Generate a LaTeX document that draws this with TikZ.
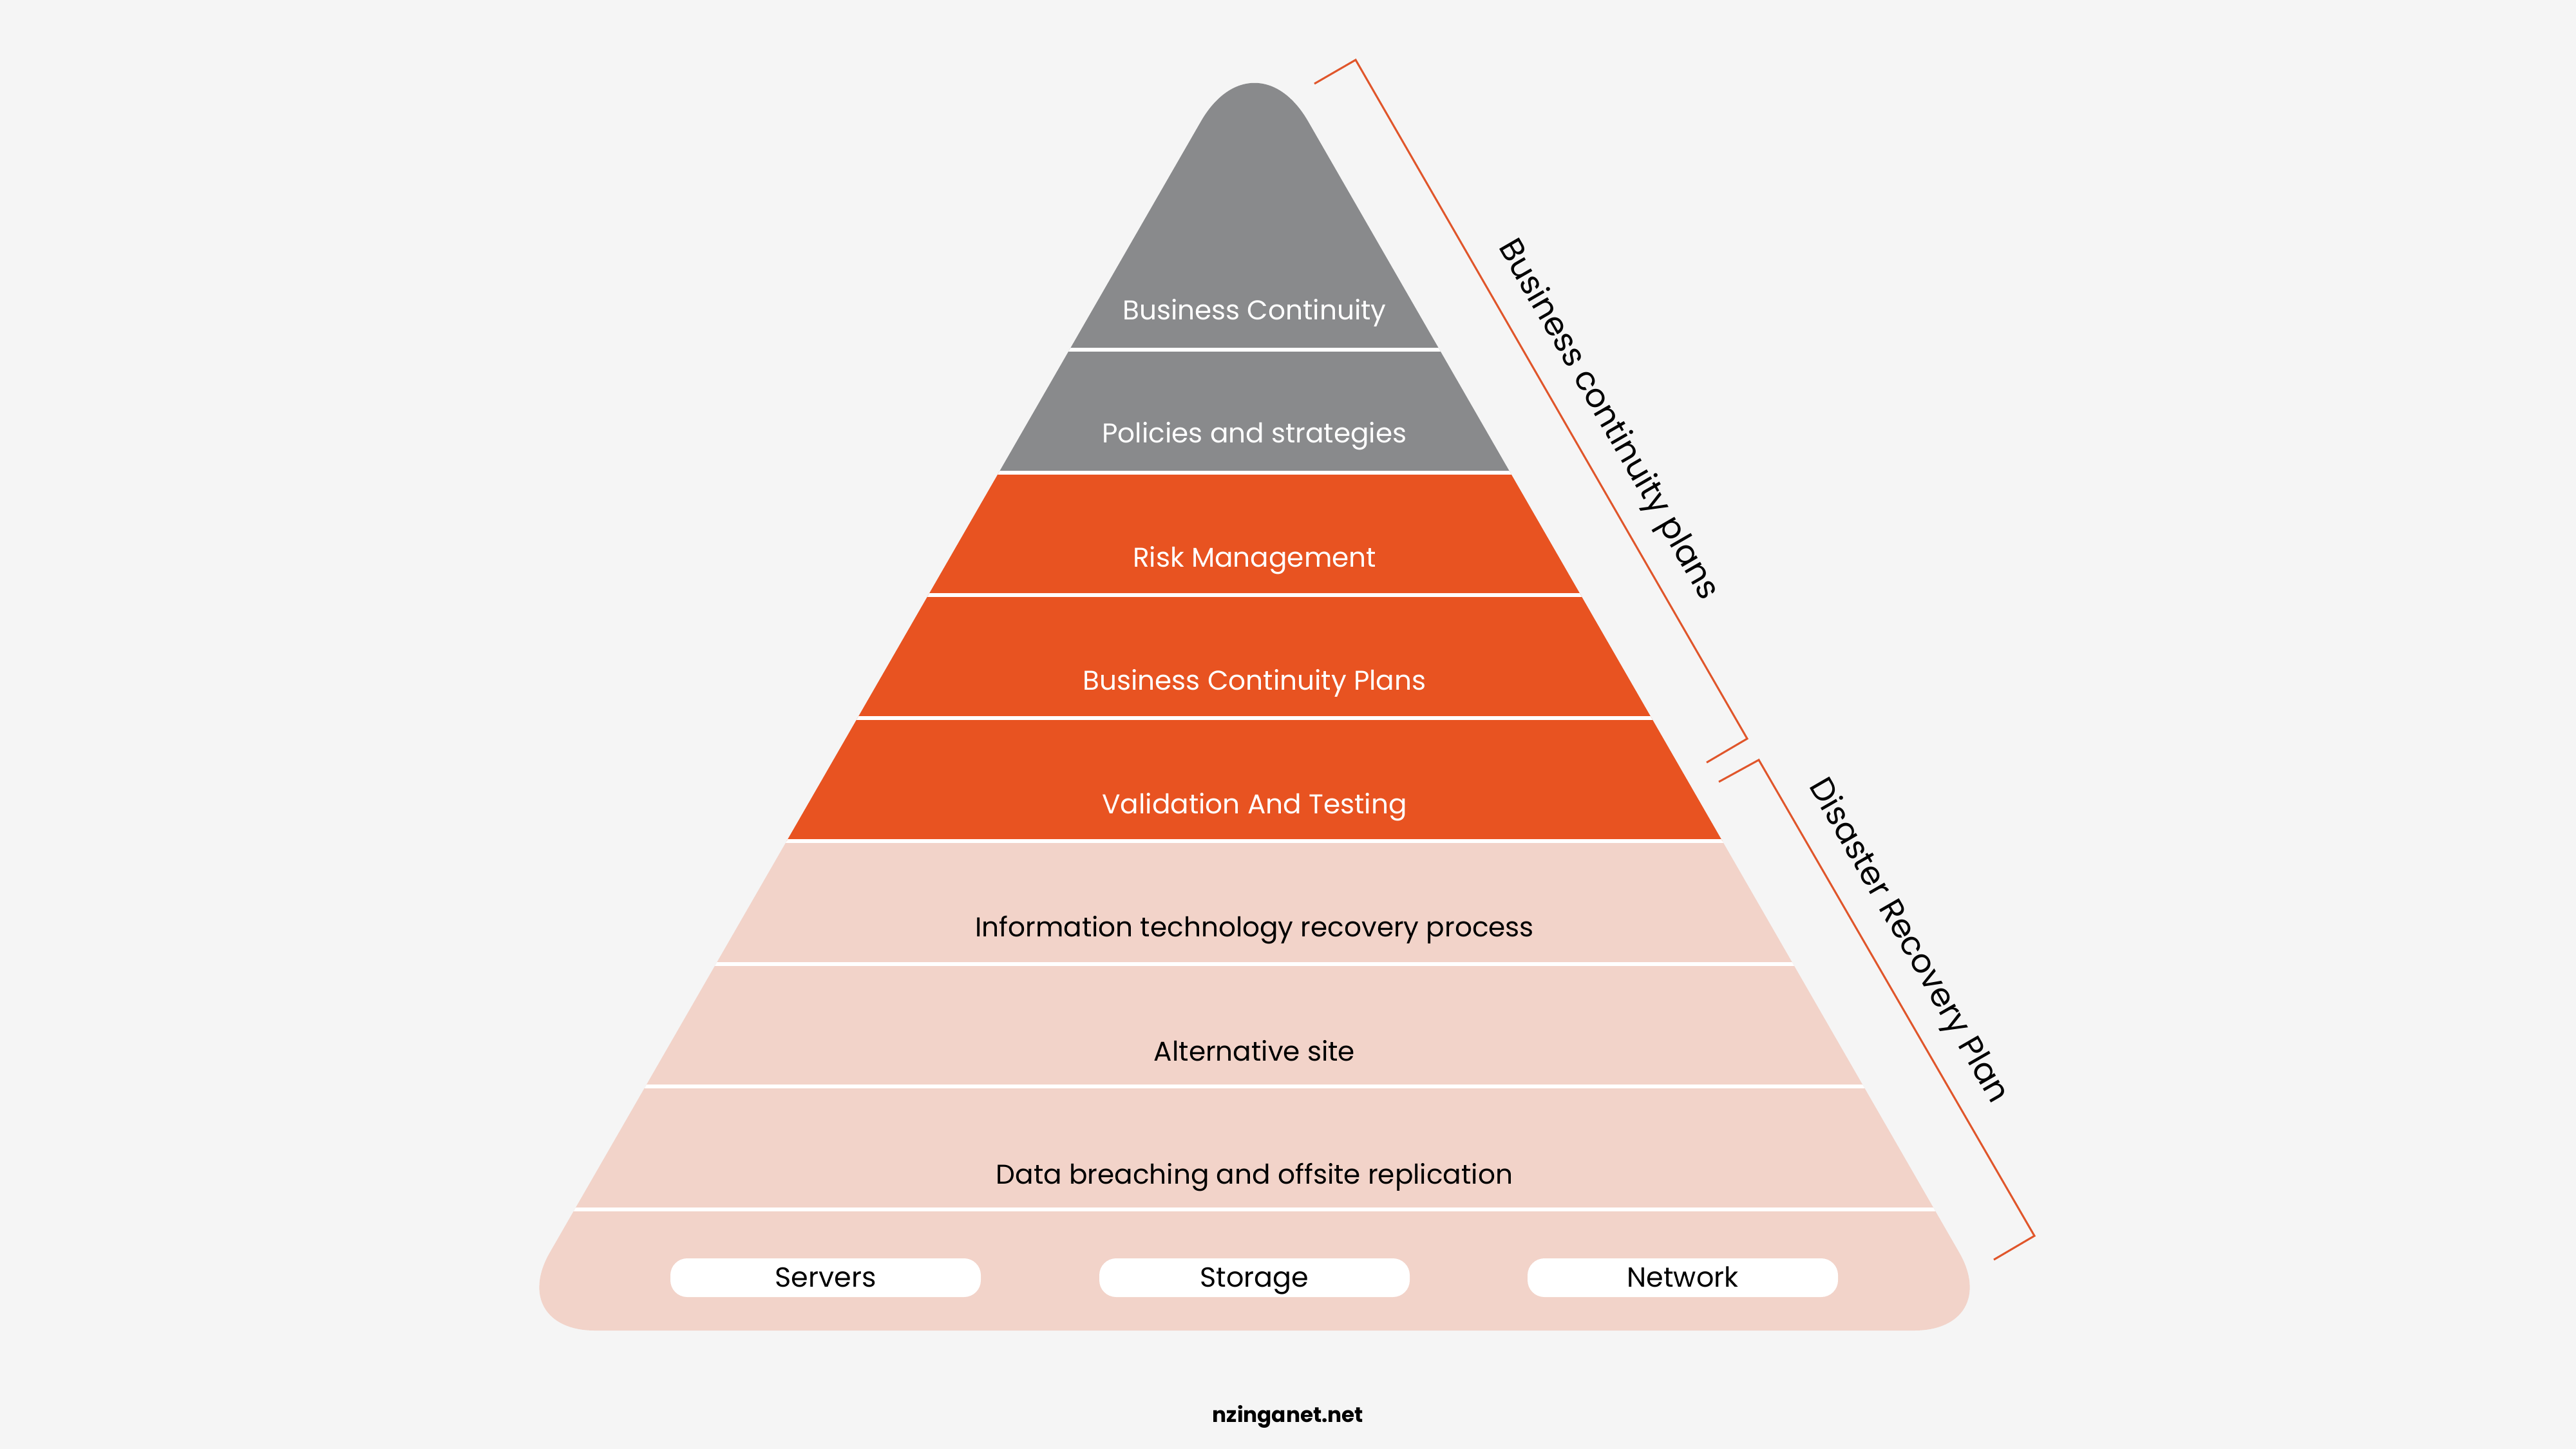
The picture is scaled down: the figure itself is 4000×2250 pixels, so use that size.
\documentclass[tikz,border=0pt]{standalone}
\usepackage{fontspec}
\setmainfont{Poppins}
\definecolor{bgtone}{HTML}{F5F5F5}
\definecolor{graytone}{HTML}{898A8C}
\definecolor{orangetone}{HTML}{E85321}
\definecolor{pinktone}{HTML}{F2D3C9}
\definecolor{bracketline}{HTML}{E0562B}
\tikzset{
  lvl/.style={inner sep=0pt, text height=2.9mm, text depth=0pt, font=\fontsize{12}{14}\selectfont},
  lvllight/.style={lvl, text=white},
  lvldark/.style={lvl, text=black},
  pill/.style={fill=white, rounded corners=2.6mm, minimum width=48.2mm, minimum height=6mm,
    inner sep=0pt, text height=2.9mm, text depth=0pt, font=\fontsize{12.2}{14}\selectfont},
  bracket/.style={draw=bracketline, line width=0.3mm, line join=miter},
  sidelabel/.style={rotate=-60, inner sep=0pt, font=\fontsize{14.4}{16}\selectfont},
}
\begin{document}
\begin{tikzpicture}[x=0.1mm,y=-0.1mm]
%%
\useasboundingbox (0,0) rectangle (4000,2250);
\fill[bgtone] (0,0) rectangle (4000,2250);
%% pyramid
\begin{scope}
  \clip (1864.7,188.7) .. controls (1910.7,108.8) and (1985.3,108.8) .. (2031.3,188.7)
    -- (3042.1,1944.7) .. controls (3080.7,2011.7) and (3049.3,2066) .. (2972,2066)
    -- (924,2066) .. controls (846.7,2066) and (815.3,2011.7) .. (853.9,1944.7) -- cycle;
  \fill[graytone] (700,0) rectangle (3200,734);
  \fill[orangetone] (700,734) rectangle (3200,1306);
  \fill[pinktone] (700,1306) rectangle (3200,2100);
  \foreach \y in {543,734,924,1115,1306,1497,1687,1878}
    \draw[white, line width=0.6mm] (700,\y) -- (3200,\y);
\end{scope}
%% levels
\node (node_bc) at (1948,482) [lvllight] {Business Continuity};
\node (node_policies) at (1948,673) [lvllight] {Policies and strategies};
\node (node_risk) at (1948,866) [lvllight] {Risk Management};
\node (node_bcp) at (1948,1057) [lvllight] {Business Continuity Plans};
\node (node_testing) at (1948,1249) [lvllight] {Validation And Testing};
\node (node_itrp) at (1948,1440) [lvldark] {Information technology recovery process};
\node (node_altsite) at (1948,1633) [lvldark] {Alternative site};
\node (node_replication) at (1948,1824) [lvldark] {Data breaching and offsite replication};
%% base
\node (node_servers) at (1282,1984) [pill] {Servers};
\node (node_storage) at (1948,1984) [pill] {Storage};
\node (node_network) at (2613,1984) [pill] {Network};
%% brackets
\coordinate (bcp_a) at (2041,130);
\coordinate (bcp_b) at (2105,93);
\coordinate (bcp_c) at (2713,1147);
\coordinate (bcp_d) at (2650,1184);
\draw [bracket] (bcp_a) -- (bcp_b) -- (bcp_c) -- (bcp_d);
\node (node_bcplans) at (2496,653) [sidelabel] {Business continuity plans};
%
\coordinate (drp_a) at (2669,1214);
\coordinate (drp_b) at (2731,1180);
\coordinate (drp_c) at (3159,1919);
\coordinate (drp_d) at (3096,1956);
\draw [bracket] (drp_a) -- (drp_b) -- (drp_c) -- (drp_d);
\node (node_drplan) at (2962,1462) [sidelabel] {Disaster Recovery Plan};
%% footer
\node (node_site) at (2000,2200) [inner sep=0pt, font=\fontsize{9.3}{11}\selectfont\bfseries] {nzinganet.net};
%
\end{tikzpicture}
\end{document}
